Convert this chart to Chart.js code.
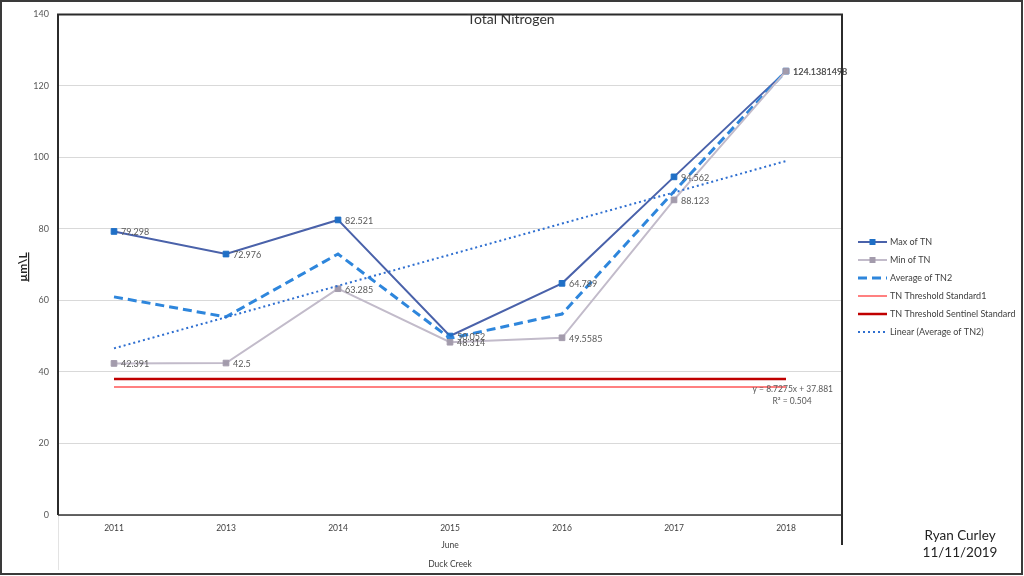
<!DOCTYPE html>
<html>
<head>
<meta charset="utf-8">
<script src="https://cdn.jsdelivr.net/npm/chart.js@4.4.0/dist/chart.umd.min.js"></script>
<style>
html,body{margin:0;padding:0;background:#fff;}
#wrap{width:1024px;height:576px;position:relative;}
</style>
</head>
<body>
<div id="wrap"><canvas id="c" width="1024" height="576"></canvas></div>
<script>
// ---- data ----
const categories = ['2011','2013','2014','2015','2016','2017','2018'];
const maxTN = [79.298, 72.976, 82.521, 50.052, 64.789, 94.562, 124.1381498];
const minTN = [42.391, 42.5, 63.285, 48.314, 49.5585, 88.123, 124.1381498];
const avgTN2 = [61.0, 55.4, 73.0, 49.4, 56.2, 90.5, 124.138];
const thresholdStandard1 = [35.8, 35.8, 35.8, 35.8, 35.8, 35.8, 35.8];
const thresholdSentinel = [38.0, 38.0, 38.0, 38.0, 38.0, 38.0, 38.0];
const linearAvgTN2 = [46.6, 55.3, 64.1, 72.8, 81.5, 90.2, 99.0];
const seriesNames = ['Max of TN','Min of TN','Average of TN2','TN Threshold Standard1','TN Threshold Sentinel Standard','Linear (Average of TN2)'];
const yMin = 0, yMax = 140, yStep = 20;
const chartTitle = 'Total Nitrogen';
const yTitle = 'µm\\L';
const xGroup1 = 'June';
const xGroup2 = 'Duck Creek';
const trendEq = 'y = 8.7275x + 37.881';
const trendR2 = 'R² = 0.504';
const author = ['Ryan Curley', '11/11/2019'];

const FONT = 'Lato, "Open Sans", sans-serif';
const C = {
  max: '#4a62aa', maxPt: '#1f6fc6',
  min: '#c2bbca', minPt: '#a39bac',
  avg: '#2e86dc', std: '#ff8080', sent: '#c00000', lin: '#2f6fd0'
};

const decor = {
  id: 'decor',
  afterDatasetsDraw(chart) {
    const ctx = chart.ctx;
    // data labels for Max and Min
    ctx.save();
    ctx.font = '9px ' + FONT;
    ctx.fillStyle = '#595959';
    ctx.textAlign = 'left';
    ctx.textBaseline = 'middle';
    [0, 1].forEach(di => {
      const meta = chart.getDatasetMeta(di);
      meta.data.forEach((pt, i) => {
        ctx.fillText(String(chart.data.datasets[di].data[i]), pt.x + 7, pt.y + 1);
      });
    });
    ctx.restore();
  },
  afterDraw(chart) {
    const ctx = chart.ctx;
    const a = chart.chartArea;
    ctx.save();
    // light gray axis area separator
    ctx.strokeStyle = '#e3e3e3';
    ctx.lineWidth = 1;
    ctx.beginPath();
    ctx.moveTo(a.left + 0.5, a.bottom); ctx.lineTo(a.left + 0.5, 570);
    ctx.stroke();
    // plot borders
    ctx.strokeStyle = '#2b2b2b';
    ctx.lineWidth = 2;
    ctx.beginPath();
    ctx.moveTo(a.left, a.top); ctx.lineTo(a.right, a.top);
    ctx.moveTo(a.left, a.top - 1); ctx.lineTo(a.left, a.bottom);
    ctx.moveTo(a.right, a.top - 1); ctx.lineTo(a.right, 545);
    ctx.stroke();
    ctx.lineWidth = 1.5;
    ctx.strokeStyle = '#333';
    ctx.beginPath();
    ctx.moveTo(a.left, a.bottom); ctx.lineTo(a.right, a.bottom);
    ctx.stroke();
    // outer frame
    ctx.lineWidth = 2;
    ctx.strokeStyle = '#3a3a3a';
    ctx.strokeRect(1, 1, 1021, 573);

    // title
    ctx.fillStyle = '#333';
    ctx.font = '14px ' + FONT;
    ctx.textAlign = 'center';
    ctx.textBaseline = 'middle';
    ctx.fillText(chartTitle, 511, 19);

    // x group labels
    ctx.font = '8.5px ' + FONT;
    ctx.fillStyle = '#404040';
    const cx = (a.left + a.right) / 2;
    ctx.fillText(xGroup1, cx, 545);
    ctx.fillText(xGroup2, cx, 564);

    // y title (rotated, underlined)
    ctx.save();
    ctx.translate(23, 267);
    ctx.rotate(-Math.PI / 2);
    ctx.font = 'bold 12px ' + FONT;
    ctx.fillStyle = '#262626';
    ctx.textAlign = 'center';
    ctx.textBaseline = 'middle';
    ctx.fillText(yTitle, 0, 0);
    const w = ctx.measureText(yTitle).width;
    ctx.fillRect(-w / 2, 5, w, 1.2);
    ctx.restore();

    // trend equation
    ctx.font = '8.5px ' + FONT;
    ctx.fillStyle = '#595959';
    ctx.textAlign = 'right';
    ctx.fillText(trendEq, 833, 389);
    ctx.textAlign = 'center';
    ctx.fillText(trendR2, 792, 401);

    // author
    ctx.font = '13.5px ' + FONT;
    ctx.fillStyle = '#222';
    ctx.textAlign = 'center';
    ctx.fillText(author[0], 960, 536);
    ctx.fillText(author[1], 960, 553);

    // legend
    const ly0 = 242, ldy = 18, lx0 = 858, lx1 = 887;
    ctx.font = '9px ' + FONT;
    ctx.textAlign = 'left';
    ctx.textBaseline = 'middle';
    chart.data.datasets.forEach((ds, i) => {
      const y = ly0 + i * ldy;
      ctx.save();
      ctx.strokeStyle = ds.borderColor;
      ctx.lineWidth = ds.borderWidth;
      ctx.setLineDash(ds.borderDash || []);
      ctx.beginPath();
      ctx.moveTo(lx0, y); ctx.lineTo(lx1, y);
      ctx.stroke();
      ctx.setLineDash([]);
      if (ds.pointRadius > 0) {
        ctx.fillStyle = ds.pointBackgroundColor;
        ctx.fillRect((lx0 + lx1) / 2 - 3, y - 3, 6, 6);
      }
      ctx.restore();
      ctx.fillStyle = '#404040';
      ctx.fillText(ds.label, lx1 + 3, y);
    });
    ctx.restore();
  }
};

new Chart(document.getElementById('c'), {
  type: 'line',
  data: {
    labels: categories,
    datasets: [
      { label: seriesNames[0], data: maxTN, borderColor: C.max, borderWidth: 2,
        pointStyle: 'rect', pointRadius: 4, pointBorderWidth: 1,
        pointBackgroundColor: C.maxPt, pointBorderColor: C.maxPt, tension: 0, order: 6 },
      { label: seriesNames[1], data: minTN, borderColor: C.min, borderWidth: 2,
        pointStyle: 'rect', pointRadius: 4, pointBorderWidth: 1,
        pointBackgroundColor: C.minPt, pointBorderColor: C.minPt, tension: 0, order: 4 },
      { label: seriesNames[2], data: avgTN2, borderColor: C.avg, borderWidth: 3,
        borderDash: [9, 5], pointRadius: 0, tension: 0, order: 5 },
      { label: seriesNames[3], data: thresholdStandard1, borderColor: C.std, borderWidth: 2,
        pointRadius: 0, order: 3 },
      { label: seriesNames[4], data: thresholdSentinel, borderColor: C.sent, borderWidth: 2.5,
        pointRadius: 0, order: 2 },
      { label: seriesNames[5], data: linearAvgTN2, borderColor: C.lin, borderWidth: 2,
        borderDash: [2, 3], pointRadius: 0, order: 1 }
    ]
  },
  options: {
    responsive: false,
    animation: false,
    layout: { padding: { left: 0, top: 8, right: 182, bottom: 0 } },
    plugins: { legend: { display: false }, tooltip: { enabled: false }, title: { display: false } },
    scales: {
      x: {
        type: 'category', offset: true,
        grid: { display: false },
        border: { display: false },
        ticks: { font: { family: FONT, size: 8.5 }, color: '#404040', padding: 0, maxRotation: 0 },
        afterFit(s) { s.height = 61; }
      },
      y: {
        min: yMin, max: yMax,
        ticks: { stepSize: yStep, font: { family: FONT, size: 9 }, color: '#595959', padding: 9 },
        grid: { color: '#d9d9d9', lineWidth: 1, drawTicks: false },
        border: { display: false },
        afterFit(s) { s.width = 58; }
      }
    }
  },
  plugins: [decor]
});
</script>
</body>
</html>
